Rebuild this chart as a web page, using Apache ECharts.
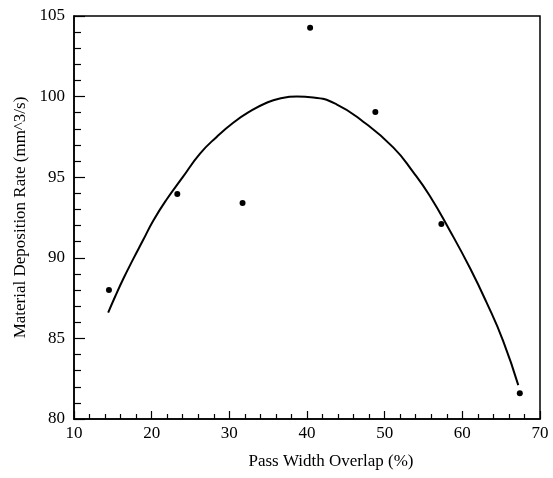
<!DOCTYPE html>
<html>
<head>
<meta charset="utf-8">
<script src="https://cdn.jsdelivr.net/npm/echarts@6/dist/echarts.min.js"></script>
<style>html,body{margin:0;padding:0;background:#fff;}#c{width:553px;height:478px;}</style>
</head>
<body>
<div id="c"></div>
<script>
// Measured points: Pass Width Overlap (%) vs Material Deposition Rate
const overlapPts = [14.5, 23.3, 31.7, 40.4, 48.8, 57.3, 67.4];
const ratePts    = [88.0, 93.96, 93.4, 104.27, 99.04, 92.1, 81.6];

// Fitted curve
const curveX = [14.4, 15.3, 16.35, 17.6, 18.9, 20.2, 21.9, 24.07, 26.2, 28.37, 30.5, 32.65, 34.8, 36.5, 38.7, 40.8, 43.8, 47.2, 51.1, 53.7, 55.8, 58.4, 61.0, 63.1, 65.25, 67.2];
const curveY = [86.6, 87.6, 88.7, 89.9, 91.1, 92.3, 93.6, 95.05, 96.45, 97.5, 98.38, 99.08, 99.62, 99.88, 100.0, 99.95, 99.52, 98.46, 96.85, 95.3, 93.85, 91.68, 89.35, 87.25, 84.85, 82.1];

const xTitle = 'Pass Width Overlap (%)';
const yTitle = 'Material Deposition Rate (mm^3/s)';

const font = 'Liberation Serif';
const chart = echarts.init(document.getElementById('c'));
chart.setOption({
  animation: false,
  backgroundColor: '#fff',
  grid: { left: 74, right: 13, top: 16, bottom: 59, show: true, borderColor: '#000', borderWidth: 1.5, backgroundColor: 'transparent' },
  xAxis: {
    type: 'value', min: 10, max: 70, interval: 10,
    name: xTitle, nameLocation: 'middle', nameGap: 34,
    nameTextStyle: { fontFamily: font, fontSize: 17, color: '#000', padding: [0, 0, 0, 48] },
    axisLine: { lineStyle: { color: '#000', width: 1.5 } },
    axisTick: { inside: true, length: 8, lineStyle: { color: '#000', width: 1.2 } },
    minorTick: { show: true, splitNumber: 5, length: 5, lineStyle: { color: '#000', width: 1.2 } },
    axisLabel: { fontFamily: font, fontSize: 17, color: '#000', margin: 6 },
    splitLine: { show: false }
  },
  yAxis: {
    type: 'value', min: 80, max: 105, interval: 5,
    name: yTitle, nameLocation: 'middle', nameGap: 44,
    nameTextStyle: { fontFamily: font, fontSize: 17, color: '#000' },
    axisLine: { lineStyle: { color: '#000', width: 1.5 } },
    axisTick: { inside: true, length: 11, lineStyle: { color: '#000', width: 1.2 } },
    minorTick: { show: true, splitNumber: 5, length: 7, lineStyle: { color: '#000', width: 1.2 } },
    axisLabel: { fontFamily: font, fontSize: 17, color: '#000', margin: 9 },
    splitLine: { show: false }
  },
  series: [
    {
      type: 'line',
      data: curveX.map((x, i) => [x, curveY[i]]),
      showSymbol: false,
      smooth: 0.5,
      lineStyle: { color: '#000', width: 2 },
      z: 2
    },
    {
      type: 'scatter',
      data: overlapPts.map((x, i) => [x, ratePts[i]]),
      symbol: 'circle',
      symbolSize: 6,
      itemStyle: { color: '#000', opacity: 1 },
      z: 3
    }
  ]
});
</script>
</body>
</html>
